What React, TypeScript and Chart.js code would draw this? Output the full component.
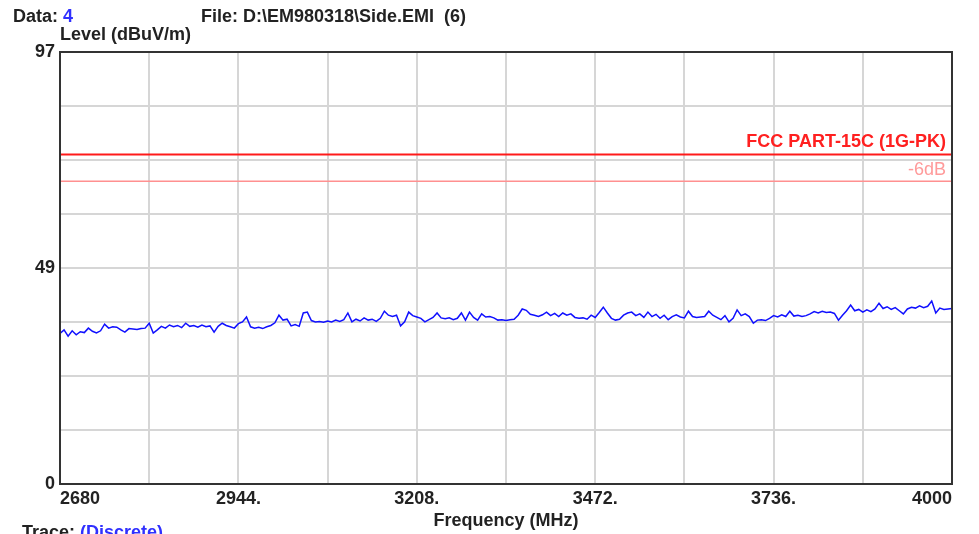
import React, { useEffect, useRef } from "react";
import { Chart, registerables } from "chart.js";

Chart.register(...registerables);

const freqStart = 2680;
const freqStop = 4000;
const freqStep = 6;

const levels = [
  33.8, 34.6, 33.2, 34.4, 33.5,
  34.2, 34.0, 35.0, 34.3, 33.9,
  34.4, 35.9, 35.0, 35.3, 35.2,
  34.6, 34.1, 34.9, 34.8, 34.7,
  34.9, 35.0, 36.1, 33.9, 34.6,
  35.4, 35.0, 35.7, 35.3, 35.6,
  35.1, 36.1, 35.4, 35.6, 35.2,
  35.7, 35.3, 35.5, 34.1, 35.4,
  36.1, 35.6, 35.3, 35.0, 36.0,
  36.4, 37.5, 35.3, 35.0, 35.2,
  34.9, 35.3, 35.6, 36.2, 37.9,
  36.8, 37.0, 35.5, 35.8, 35.4,
  38.4, 38.6, 36.7, 36.4, 36.5,
  36.3, 36.6, 36.4, 36.8, 36.5,
  36.9, 38.4, 36.4, 37.0, 36.6,
  37.3, 36.8, 37.0, 36.5, 37.2,
  38.8, 37.9, 37.6, 37.9, 35.5,
  36.4, 38.6, 37.8, 37.5, 37.2,
  36.4, 36.9, 37.4, 38.4, 37.3,
  37.1, 37.3, 36.9, 37.2, 38.4,
  36.8, 38.6, 37.4, 36.8, 38.2,
  37.5, 37.6, 37.3, 36.8, 36.9,
  36.7, 36.9, 37.0, 37.9, 39.3,
  39.0, 38.1, 37.9, 37.6, 38.0,
  38.6, 37.8, 38.3, 37.6, 38.4,
  37.9, 38.2, 37.4, 37.2, 37.3,
  37.0, 37.9, 37.4, 38.5, 39.7,
  38.4, 37.2, 36.8, 37.0, 37.9,
  38.4, 38.6, 37.8, 38.2, 37.4,
  38.6, 37.6, 38.1, 37.2, 37.9,
  36.9, 37.6, 38.0, 37.5, 37.3,
  38.8, 37.6, 37.4, 37.5, 37.6,
  38.8, 37.9, 37.4, 36.9, 37.8,
  36.4, 37.2, 39.1, 37.8, 38.2,
  37.6, 36.1, 36.8, 36.9, 36.7,
  37.2, 37.8, 37.5, 38.0, 37.6,
  38.8, 37.7, 37.9, 37.6, 37.8,
  38.2, 38.7, 38.4, 38.8, 38.5,
  38.6, 38.3, 36.8, 37.9, 38.9,
  40.2, 38.9, 39.2, 38.6, 39.1,
  38.7, 39.3, 40.6, 39.4, 39.8,
  39.2, 39.6, 38.9, 38.2, 39.3,
  39.7, 39.5, 40.0, 39.6, 39.9,
  41.1, 38.4, 39.5, 39.2, 39.3,
  39.4,
];

const limitLevel = 74;
const marginLevel = 68;
const limitLabel = "FCC PART-15C (1G-PK)";
const marginLabel = "-6dB";

const xTickValues = [2680, 2812, 2944, 3076, 3208, 3340, 3472, 3604, 3736, 3868, 4000];
const xTickLabels = ["2680", "", "2944.", "", "3208.", "", "3472.", "", "3736.", "", "4000"];
const yTickValues = [0, 12.125, 24.25, 36.375, 48.5, 60.625, 72.75, 84.875, 97];
const yTickLabels = ["0", "", "", "", "49", "", "", "", "97"];

const FONT = '"Liberation Sans", Arial, sans-serif';

export default function App() {
  const canvasRef = useRef<HTMLCanvasElement | null>(null);

  useEffect(() => {
    const canvas = canvasRef.current;
    if (!canvas) return;
    const traceData = levels.map((v, i) => ({ x: freqStart + i * freqStep, y: v }));

    const textPlugin = {
      id: "emiText",
      afterDraw(chart: any) {
        const ctx = chart.ctx;
        const a = chart.chartArea;
        ctx.save();
        ctx.strokeStyle = "#333333";
        ctx.lineWidth = 2;
        ctx.strokeRect(a.left, a.top, a.right - a.left, a.bottom - a.top);

        ctx.textBaseline = "middle";
        ctx.font = `bold 18px ${FONT}`;
        ctx.textAlign = "left";
        ctx.fillStyle = "#222222";
        ctx.fillText("Data: ", 13, 17);
        let w = ctx.measureText("Data: ").width;
        ctx.fillStyle = "#3030ff";
        ctx.fillText("4", 13 + w, 17);
        ctx.fillStyle = "#222222";
        ctx.fillText("File: D:\\EM980318\\Side.EMI  (6)", 201, 17);
        ctx.fillText("Level (dBuV/m)", 60, 35);
        ctx.textAlign = "center";
        ctx.fillText("Frequency (MHz)", (a.left + a.right) / 2, 521);
        ctx.textAlign = "left";
        ctx.fillText("Trace: ", 22, 533);
        w = ctx.measureText("Trace: ").width;
        ctx.fillStyle = "#3030ff";
        ctx.fillText("(Discrete)", 22 + w, 533);

        const ys = chart.scales.y;
        ctx.textAlign = "right";
        ctx.fillStyle = "#ff2020";
        ctx.fillText(limitLabel, a.right - 6, ys.getPixelForValue(limitLevel) - 12);
        ctx.fillStyle = "#ff9a9a";
        ctx.font = `18px ${FONT}`;
        ctx.fillText(marginLabel, a.right - 6, ys.getPixelForValue(marginLevel) - 11);
        ctx.restore();
      },
    };

    const chart = new Chart(canvas, {
      type: "line",
      data: {
        datasets: [
          {
            label: "Trace",
            data: traceData,
            borderColor: "#1010ff",
            borderWidth: 1.5,
            pointRadius: 0,
            tension: 0,
          },
          {
            label: limitLabel,
            data: [
              { x: freqStart, y: limitLevel },
              { x: freqStop, y: limitLevel },
            ],
            borderColor: "#ff1a1a",
            borderWidth: 2,
            pointRadius: 0,
          },
          {
            label: marginLabel,
            data: [
              { x: freqStart, y: marginLevel },
              { x: freqStop, y: marginLevel },
            ],
            borderColor: "#ff9090",
            borderWidth: 1.5,
            pointRadius: 0,
          },
        ],
      },
      options: {
        responsive: false,
        animation: false,
        events: [],
        layout: { padding: { left: 0, top: 52, right: 27, bottom: 0 } },
        plugins: { legend: { display: false }, tooltip: { enabled: false } },
        scales: {
          x: {
            type: "linear",
            min: freqStart,
            max: freqStop,
            afterBuildTicks: (s: any) => {
              s.ticks = xTickValues.map((v) => ({ value: v }));
            },
            afterFit: (s: any) => {
              s.height = 50;
            },
            grid: { color: "#d6d6d6", lineWidth: 2, drawTicks: false },
            border: { display: true, color: "#333333", width: 2 },
            ticks: {
              autoSkip: false,
              maxRotation: 0,
              align: "inner",
              padding: 4,
              color: "#222222",
              font: { family: FONT, size: 18, weight: "bold" },
              callback: (_v: any, i: number) => xTickLabels[i],
            },
          },
          y: {
            type: "linear",
            min: 0,
            max: 97,
            afterBuildTicks: (s: any) => {
              s.ticks = yTickValues.map((v) => ({ value: v }));
            },
            afterFit: (s: any) => {
              s.width = 60;
            },
            grid: { color: "#d6d6d6", lineWidth: 2, drawTicks: false },
            border: { display: true, color: "#333333", width: 2 },
            ticks: {
              autoSkip: false,
              padding: 5,
              color: "#222222",
              font: { family: FONT, size: 18, weight: "bold" },
              callback: (_v: any, i: number) => yTickLabels[i],
            },
          },
        },
      },
      plugins: [textPlugin],
    } as any);

    return () => chart.destroy();
  }, []);

  return (
    <div style={{ position: "fixed", left: 0, top: 0, width: 979, height: 534, background: "#ffffff" }}>
      <canvas ref={canvasRef} width={979} height={534} style={{ display: "block" }} />
    </div>
  );
}
